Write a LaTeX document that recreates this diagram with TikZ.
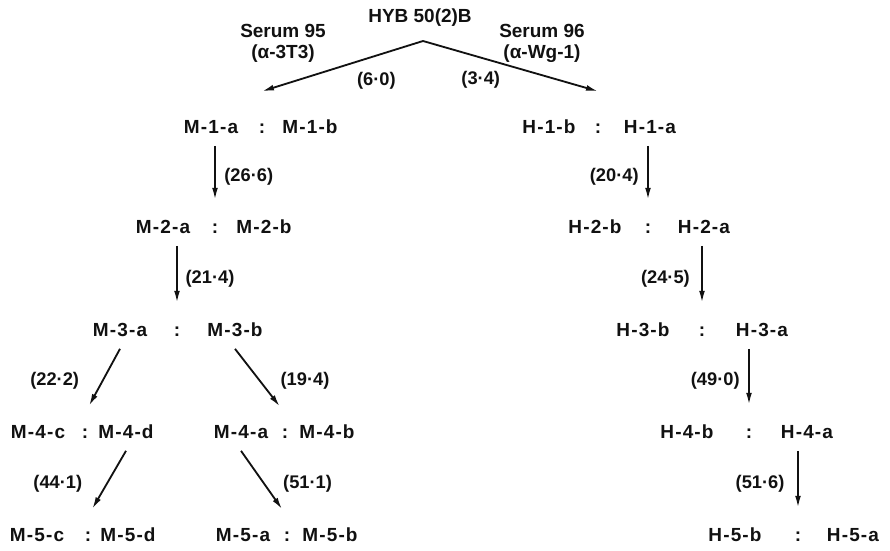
\documentclass[tikz,border=0pt]{standalone}
\usepackage{fontspec}
\setmainfont{Liberation Sans}
\newfontfamily\namefont[LetterSpace=6]{Liberation Sans}
\usetikzlibrary{arrows.meta}
\definecolor{cink}{HTML}{111111}
\tikzset{
  every picture/.style={font=\fontsize{13.5}{15}\selectfont\bfseries, line width=1.3pt, x=0.025cm, y=-0.025cm, text=cink},
  clone/.style={font=\namefont\bfseries\fontsize{13.5}{15}\selectfont, inner xsep=1pt, inner ysep=8pt, text height=9.5pt, text depth=0pt},
  arrow/.style={-{Latex[length=8.5pt, width=4.2pt]}, draw=cink},
  link/.style={arrow, shorten >=6pt},
  num/.style={font=\fontsize{13}{15}\selectfont\bfseries, inner sep=2pt},
}
\begin{document}
\begin{tikzpicture}
  \useasboundingbox (0,0) rectangle (890,551);
  % parent line and the two sera
  \node (hyb) at (420,18) {HYB 50(2)B};
  \node[align=center] (s95) at (283,43) {Serum 95\\(α-3T3)};
  \node[align=center] (s96) at (542,43) {Serum 96\\(α-Wg-1)};
  \coordinate (apex) at (423,41);
  % clones, M side
  \foreach \n/\t/\x/\y in {
      m1a/M-1-a/211/127, m1s/:/262/127, m1b/M-1-b/310/127,
      m2a/M-2-a/163/227, m2s/:/215/227, m2b/M-2-b/264/227,
      m3a/M-3-a/120/330, m3s/:/177/330, m3b/M-3-b/235/330,
      m4c/M-4-c/38/432, m4cs/:/85/432, m4d/M-4-d/126/432,
      m4a/M-4-a/241/432, m4as/:/285/432, m4b/M-4-b/327/432,
      m5c/M-5-c/37/535, m5cs/:/88/535, m5d/M-5-d/128/535,
      m5a/M-5-a/243/535, m5as/:/287/535, m5b/M-5-b/330/535}
    \node[clone] (\n) at (\x,\y) {\t};
  % clones, H side
  \foreach \n/\t/\x/\y in {
      h1b/H-1-b/549/127, h1s/:/598/127, h1a/H-1-a/650/127,
      h2b/H-2-b/595/227, h2s/:/648/227, h2a/H-2-a/704/227,
      h3b/H-3-b/643/330, h3s/:/702/330, h3a/H-3-a/762/330,
      h4b/H-4-b/687/432, h4s/:/749/432, h4a/H-4-a/807/432,
      h5b/H-5-b/735/535, h5s/:/798/535, h5a/H-5-a/853/535}
    \node[clone] (\n) at (\x,\y) {\t};
  % first cloning
  \draw[arrow] (apex) -- node[num, below=9pt, pos=.29] {(6·0)} ([yshift=12pt]m1s.north);
  \draw[arrow] (apex) -- node[num, below=7pt, pos=.33] {(3·4)} ([yshift=12pt]h1s.north);
  % recloning
  \draw[link] (m1a.south -| m2s.north) -- node[num, right=4pt] {(26·6)} (m2s.north);
  \draw[link] (m2a.south -| m3s.north) -- node[num, right=3.5pt] {(21·4)} (m3s.north);
  \draw[link] (m3a.south) -- node[num, left=14pt] {(22·2)} (m4cs.north);
  \draw[link] (m3b.south) -- node[num, right=12pt] {(19·4)} (m4as.north);
  \draw[link] (m4d.south) -- node[num, left=15pt] {(44·1)} (m5cs.north);
  \draw[link] (m4a.south) -- node[num, right=11pt] {(51·1)} (m5as.north);
  \draw[link] (h1a.south -| h2s.north) -- node[num, left=4pt] {(20·4)} (h2s.north);
  \draw[link] (h2a.south -| h3s.north) -- node[num, left=6pt] {(24·5)} (h3s.north);
  \draw[link] (h3a.south -| h4s.north) -- node[num, left=4pt] {(49·0)} (h4s.north);
  \draw[link] (h4a.south -| h5s.north) -- node[num, left=7pt] {(51·6)} (h5s.north);
\end{tikzpicture}
\end{document}
